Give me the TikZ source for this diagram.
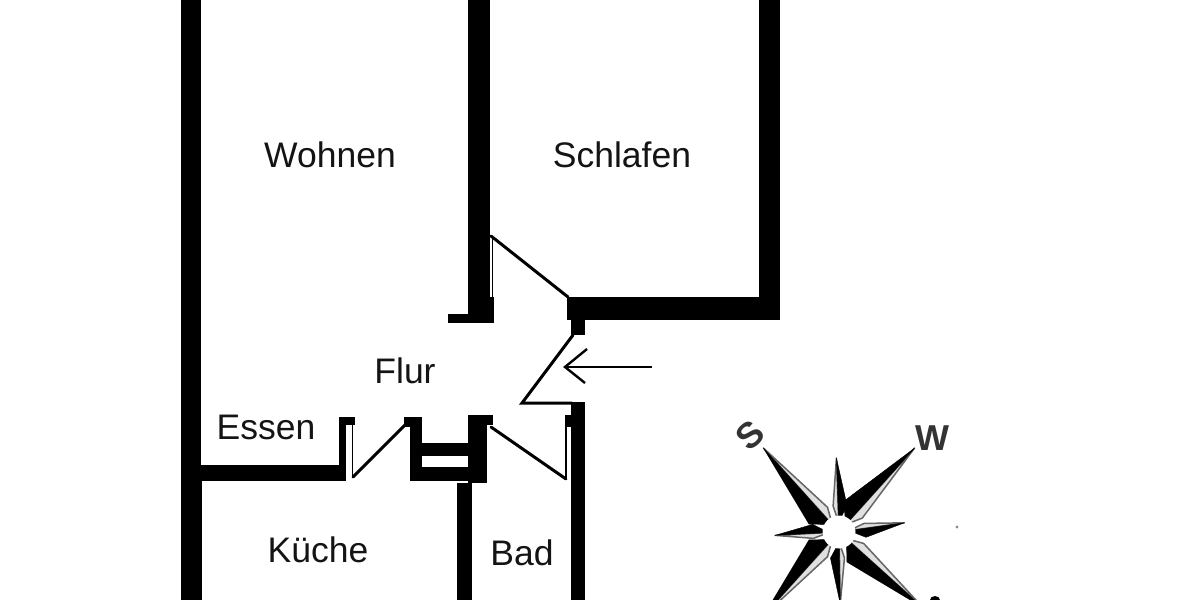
\documentclass[tikz,border=0pt]{standalone}
\usepackage{fontspec}
\setmainfont{Liberation Sans}
\tikzset{
  wall/.style={fill=black,draw=none},
  leaf/.style={draw=black,line width=3pt,line cap=round,line join=miter},
  slit/.style={draw=black,line width=1.2pt},
  room/.style={font=\fontsize{35.5}{40}\selectfont,text=black!92,inner sep=0pt},
  compassdark/.style={fill=black,draw=black,line width=.4pt,line join=round},
  compasslight/.style={fill=black!12,draw=black!60,line width=1.5pt,line join=round},
  compassletter/.style={font=\bfseries\fontsize{36}{40}\selectfont,text=black!80,inner sep=0pt}
}
\begin{document}
\begin{tikzpicture}[x=1pt,y=-1pt]
\useasboundingbox (0,0) rectangle (1200,600);
\clip (0,0) rectangle (1200,600);
\fill[white] (0,0) rectangle (1200,600);
% outer left wall
\fill[wall] (181,0) rectangle (201,600);
\fill[wall] (201,465) rectangle (202,600);
% centre wall upper
\fill[wall] (468,0) rectangle (490,297);
\fill[wall] (468,297) rectangle (494,323);
\fill[wall] (448,314) rectangle (468,323);
% Schlafen right walls
\fill[wall] (759,0) rectangle (780,320);
\fill[wall] (567,297) rectangle (780,320);
\fill[wall] (571,320) rectangle (585,335);
% lower right wall
\fill[wall] (571,402) rectangle (585,600);
\fill[wall] (565,415) rectangle (571,427);
% Essen wall and left door jamb
\fill[wall] (201,465) rectangle (346,481);
\fill[wall] (339,417) rectangle (346,481);
\fill[wall] (339,417) rectangle (355,425);
% block between doors
\fill[wall] (404,417) rectangle (422,427);
\fill[wall] (410,427) rectangle (422,481);
\fill[wall] (422,443) rectangle (468,456);
\fill[wall] (422,467) rectangle (468,481);
\fill[wall] (468,415) rectangle (493,425);
\fill[wall] (468,425) rectangle (487,483);
\fill[wall] (457,483) rectangle (472,600);
% doors
\coordinate (d1a) at (491,236);
\coordinate (d1b) at (568,297);
\draw[leaf] (d1a) -- (d1b);
\draw[slit] (492.5,236) -- (492.5,297);
\coordinate (d2a) at (573,335);
\coordinate (d2b) at (522,403);
\coordinate (d2c) at (572,403);
\draw[leaf] (d2a) -- (d2b) -- (d2c);
\coordinate (d3a) at (405,425);
\coordinate (d3b) at (353,477);
\draw[leaf] (d3a) -- (d3b);
\draw[slit] (352.5,425) -- (352.5,477);
\coordinate (d4a) at (491,427);
\coordinate (d4b) at (566,479);
\draw[leaf] (d4a) -- (d4b);
\draw[slit] (566,427) -- (566,479);
% entry arrow
\coordinate (a0) at (652,367);
\coordinate (a1) at (565,367);
\draw[draw=black,line width=2pt] (a0) -- (a1);
\draw[draw=black,line width=2.4pt] (587,349) -- (a1) -- (585,383);
% labels
\node[room] (wohnen) at (330,155) {Wohnen};
\node[room] (schlafen) at (622,155) {Schlafen};
\node[room] (flur) at (405,371) {Flur};
\node[room] (essen) at (266,427) {Essen};
\node[room] (kueche) at (318,550) {Küche};
\node[room] (bad) at (522,553) {Bad};
% compass: each arm /angle/length/dark half-width/light half-width/side of the light half
\def\cx{839}\def\cy{532}
\foreach \a/\L/\wd/\wl/\s in {228/113/17/8/1,312/113/17/8/1,42/113/17/8/-1,132/113/17/8/-1,
                              268/74/9/5/-1,352/66/9/5/-1,177/64/9/5/-1,89/72/9/5/-1}{
  \pgfmathsetmacro{\ca}{cos(\a)}
  \pgfmathsetmacro{\sa}{sin(\a)}
  \coordinate (tip) at ({\cx+\L*\ca},{\cy+\L*\sa});
  \coordinate (mid) at ({\cx+10*\ca},{\cy+10*\sa});
  \coordinate (lit) at ({\cx+26*\ca-\s*\wl*\sa},{\cy+26*\sa+\s*\wl*\ca});
  \coordinate (drk) at ({\cx+26*\ca+\s*\wd*\sa},{\cy+26*\sa-\s*\wd*\ca});
  \draw[compasslight] (tip) -- (lit) -- (mid) -- cycle;
  \draw[compassdark] (tip) -- (drk) -- (mid) -- cycle;
}
\fill[white] (\cx,\cy) circle (16.5);
\node[compassletter,rotate=42] (s) at (750,435) {S};
\node[compassletter] (w) at (932,438) {W};
\fill[black!45] (957,527) circle (1.6);
\fill[black] (935,600) ellipse (5 and 4);
\end{tikzpicture}
\end{document}
